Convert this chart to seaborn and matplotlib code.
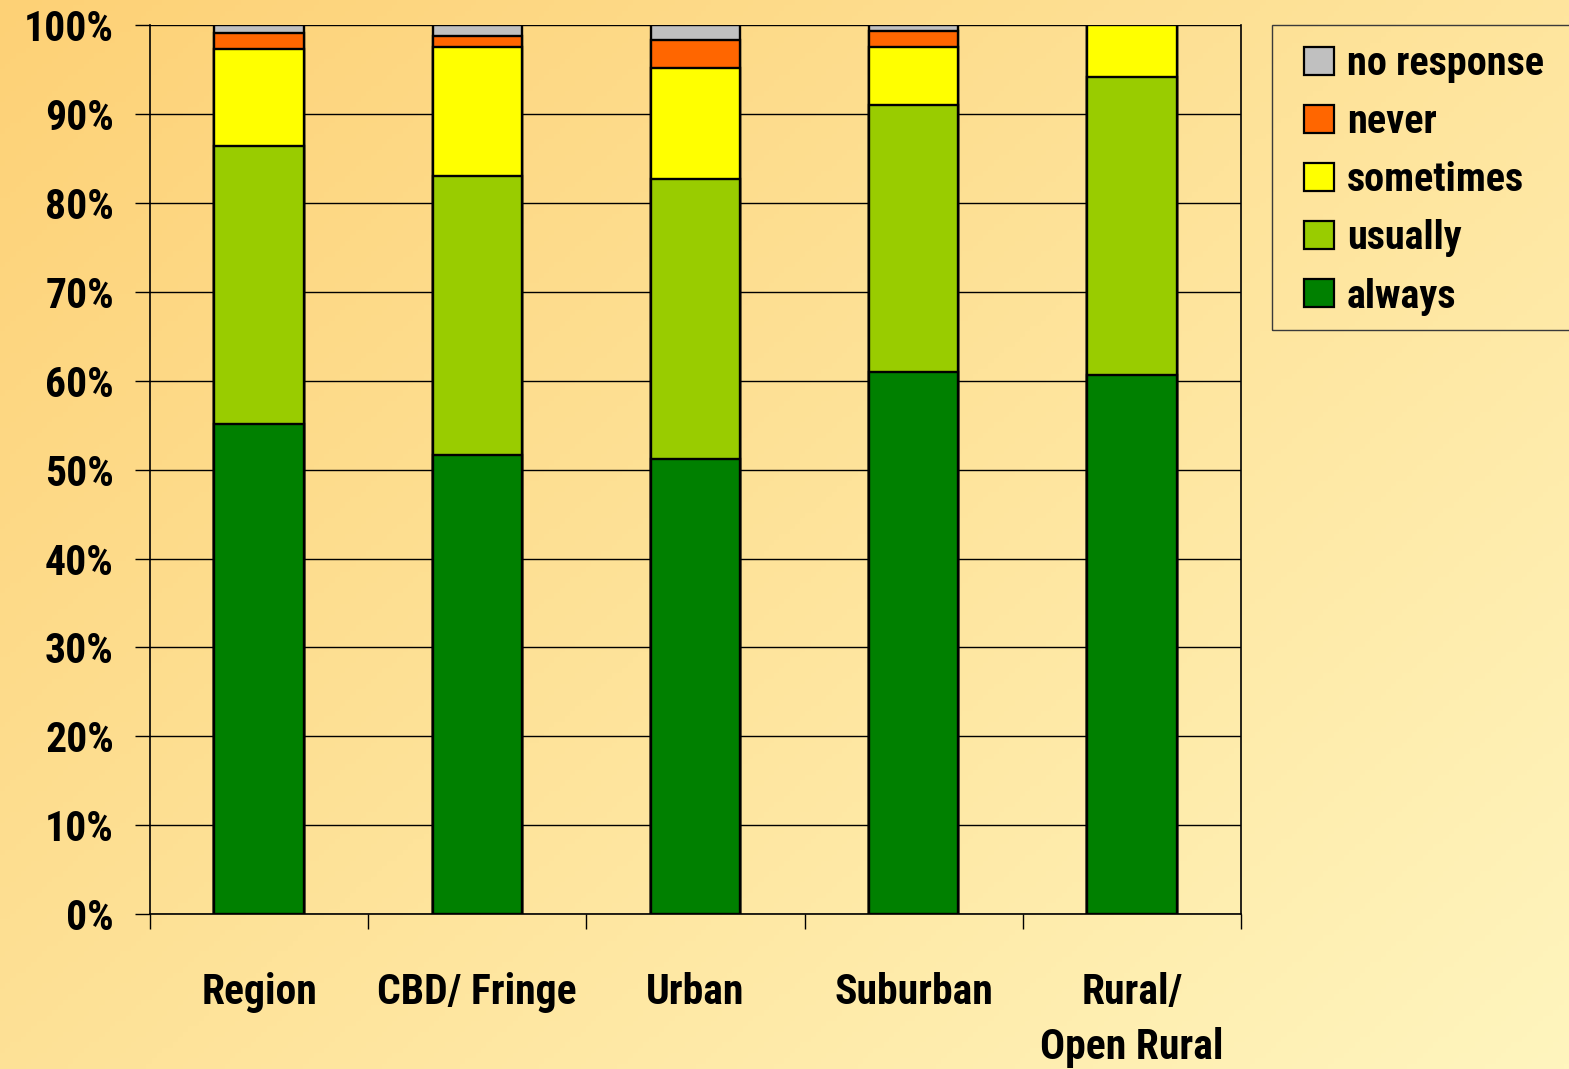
import os
import numpy as np
import pandas as pd
import matplotlib
matplotlib.use("Agg")
import matplotlib.pyplot as plt
from matplotlib import font_manager
from matplotlib.font_manager import FontProperties
from matplotlib.textpath import TextPath
from matplotlib.patches import Patch, Rectangle
from matplotlib.ticker import FixedLocator
import seaborn as sns

# Share of answers per area type (percent)
areas = ["Region", "CBD/ Fringe", "Urban", "Suburban", "Rural/\nOpen Rural"]
always = [55.1, 51.7, 51.2, 61.0, 60.7]
usually = [31.3, 31.3, 31.5, 30.0, 33.5]
sometimes = [10.9, 14.6, 12.5, 6.6, 5.8]
never = [1.8, 1.2, 3.2, 1.8, 0.0]
no_response = [0.9, 1.2, 1.6, 0.6, 0.0]

series_names = ["always", "usually", "sometimes", "never", "no response"]
series_colors = ["#008000", "#99CC00", "#FFFF00", "#FF6600", "#C0C0C0"]
y_ticks = [0, 10, 20, 30, 40, 50, 60, 70, 80, 90, 100]

sns.set_theme(style="white")
plt.rcParams["font.family"] = ["DejaVu Sans"]
for key in ["text.color", "axes.labelcolor", "xtick.color", "ytick.color"]:
    plt.rcParams[key] = "black"

# Find a narrow bold face among the installed fonts
preferred = ["LiberationSansNarrow-Bold.ttf", "RobotoCondensed-Bold.ttf",
             "NotoSans-CondensedBold.ttf", "OpenSans_Condensed-Bold.ttf",
             "OpenSans-CondBold.ttf", "Roboto_Condensed-Bold.ttf",
             "DejaVuSansCondensed-Bold.ttf"]
paths = {os.path.basename(f.fname): f.fname for f in font_manager.fontManager.ttflist}
font_path = None
for name in preferred:
    if name in paths:
        font_path = paths[name]
        break
if font_path is None:
    for base, p in sorted(paths.items()):
        low = base.lower()
        if ("condensed" in low or "narrow" in low) and "bold" in low \
                and "extra" not in low and "semi" not in low and "italic" not in low:
            font_path = p
            break


def fprops(size):
    if font_path:
        return FontProperties(fname=font_path, size=size)
    return FontProperties(family="DejaVu Sans", weight="bold", stretch="condensed", size=size)


def fit_size(text, target_px, max_size):
    w = TextPath((0, 0), text, prop=fprops(100)).get_extents().width  # points at size 100
    return min(max_size, 100 * target_px / (w * 100 / 72))


tick_size = fit_size("Suburban", 160, 30)
legend_size = fit_size("no response", 196, 29)
tick_fp = fprops(tick_size)
legend_fp = fprops(legend_size)
legend_px = legend_size * 100 / 72

W, H = 1569, 1069
fig = plt.figure(figsize=(W / 100, H / 100), dpi=100)

# Warm diagonal background wash
bg = fig.add_axes([0, 0, 1, 1], zorder=-10)
gy, gx = np.mgrid[0:1:200j, 0:1:300j]
t = (gx * 0.55 + gy * 0.45)
c0 = np.array([253, 209, 118]) / 255.0
c1 = np.array([255, 245, 190]) / 255.0
img = c0[None, None, :] * (1 - t[..., None]) + c1[None, None, :] * t[..., None]
bg.imshow(img, aspect="auto", extent=[0, 1, 0, 1], origin="upper")
bg.axis("off")

ax = fig.add_axes([150 / W, 1 - 914 / H, (1241 - 150) / W, (914 - 25.3) / H])
ax.set_facecolor("none")

df = pd.DataFrame({
    "area": areas,
    "always": always,
    "usually": usually,
    "sometimes": sometimes,
    "never": never,
    "no response": no_response,
})
cum = df[series_names].cumsum(axis=1)

# Stack by drawing cumulative totals from the top layer down
for name, color in reversed(list(zip(series_names, series_colors))):
    sns.barplot(x=df["area"], y=cum[name], color=color, width=0.41,
                edgecolor="black", linewidth=1.7, saturation=1, ax=ax,
                zorder=3, order=areas)

ax.set_xlim(-0.5, len(areas) - 0.5)
ax.set_ylim(0, 100)
ax.set_xlabel("")
ax.set_ylabel("")

ax.set_yticks(y_ticks)
ax.set_yticklabels([f"{v}%" for v in y_ticks])
ax.yaxis.grid(True, color="black", linewidth=1.0, zorder=0)
ax.xaxis.grid(False)
ax.set_axisbelow(True)

ax.set_xticks(range(len(areas)))
ax.set_xticklabels(areas, linespacing=1.42)
for lbl in ax.get_xticklabels() + ax.get_yticklabels():
    lbl.set_fontproperties(tick_fp)
    lbl.set_color("black")
ax.xaxis.set_minor_locator(FixedLocator(np.arange(-0.5, len(areas), 1.0)))
ax.tick_params(axis="x", which="major", length=0, pad=42)
ax.tick_params(axis="x", which="minor", length=11, width=1.0, color="black",
               direction="out", bottom=True)
ax.tick_params(axis="y", which="major", length=11, width=1.0, color="black",
               direction="out", left=True, pad=15)

for side in ["left", "right", "bottom"]:
    ax.spines[side].set_visible(True)
    ax.spines[side].set_color("black")
    ax.spines[side].set_linewidth(1.2)
ax.spines["top"].set_visible(False)

# Legend box runs off the right edge of the figure
fig.patches.append(Rectangle((1272 / W, 1 - 330 / H), (1600 - 1272) / W, (330 - 25) / H,
                             transform=fig.transFigure, facecolor="none",
                             edgecolor="#3a3a3a", linewidth=1.0, clip_on=False))

handles = [Patch(facecolor=c, edgecolor="black", linewidth=1.6, label=n)
           for n, c in zip(series_names, series_colors)]
leg = fig.legend(handles=handles[::-1], loc="upper left",
                 bbox_to_anchor=(1304 / W, 1 - 45 / H), bbox_transform=fig.transFigure,
                 prop=legend_fp, frameon=False,
                 borderpad=0, handlelength=30 / legend_px, handleheight=28 / legend_px,
                 handletextpad=13 / legend_px, labelspacing=0.5, borderaxespad=0,
                 labelcolor="black")

fig.savefig("out.png", dpi=100)
